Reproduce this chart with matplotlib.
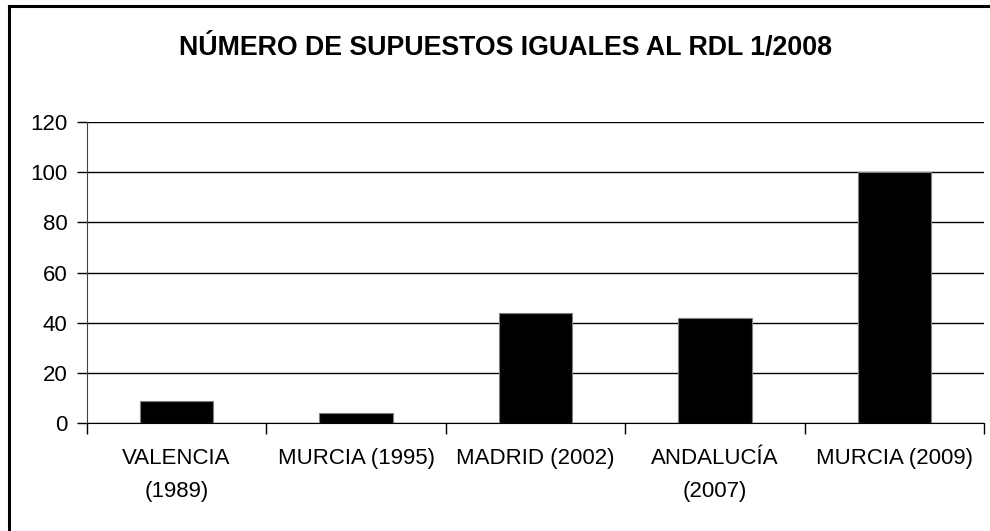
import matplotlib

matplotlib.use("Agg")
import matplotlib.pyplot as plt
import numpy as np
from matplotlib.lines import Line2D

categories = ["VALENCIA\n(1989)", "MURCIA (1995)", "MADRID (2002)", "ANDALUCÍA\n(2007)", "MURCIA (2009)"]
values = [9, 4, 44, 42, 100]
title = "NÚMERO DE SUPUESTOS IGUALES AL RDL 1/2008"
y_ticks = [0, 20, 40, 60, 80, 100, 120]

plt.rcParams["font.family"] = ["Liberation Sans", "DejaVu Sans"]

fig = plt.figure(figsize=(9.9, 5.31), dpi=100)
ax = fig.add_axes([0.0876, 0.2028, 0.9067, 0.568])

x = np.arange(len(values))
ax.bar(x, values, width=0.41, color="black", edgecolor="#808080", linewidth=0.8, zorder=3)

ax.set_xlim(-0.5, len(values) - 0.5)
ax.set_ylim(0, 120)
ax.set_yticks(y_ticks)
ax.yaxis.grid(True, color="black", linewidth=1.0, zorder=0)

# category labels centred, tick marks on the boundaries
ax.set_xticks(x)
ax.set_xticklabels(categories, fontsize=16, linespacing=1.7)
ax.set_xticks(np.arange(len(values) + 1) - 0.5, minor=True)
ax.tick_params(axis="x", which="major", length=0, pad=18)
ax.tick_params(axis="x", which="minor", length=8, width=1, color="black", direction="out")
ax.tick_params(axis="y", length=7, width=1, color="black", labelsize=16, pad=7)

for side in ["top", "right"]:
    ax.spines[side].set_visible(False)
ax.spines["left"].set_color("#404040")
ax.spines["bottom"].set_color("black")

fig.text(0.5106, 0.91, title, ha="center", va="center", fontsize=19.3, fontweight="bold")

# chart frame, only top and left edge are inside the picture
fig.add_artist(Line2D([0.0091, 1.0], [0.988, 0.988], transform=fig.transFigure, color="black", linewidth=2.2))
fig.add_artist(Line2D([0.0091, 0.0091], [0.0, 0.988], transform=fig.transFigure, color="black", linewidth=2.2))

fig.savefig("out.png", dpi=100)
plt.close(fig)
